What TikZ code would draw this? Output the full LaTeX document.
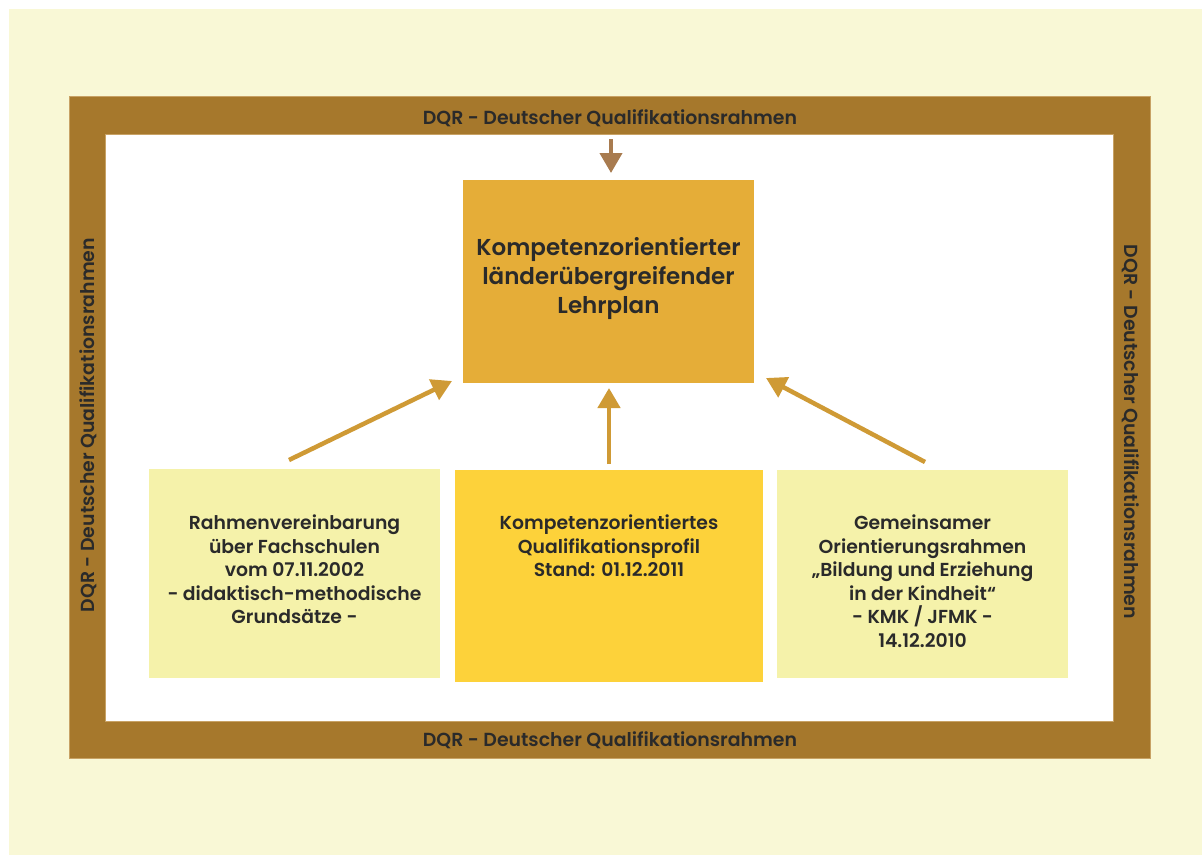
\documentclass[tikz,border=0pt]{standalone}
\usepackage{fontspec}
\setmainfont{Poppins}[BoldFont={Poppins SemiBold}]
\usetikzlibrary{arrows.meta}
\definecolor{bgyel}{HTML}{F9F8D6}
\definecolor{frame}{HTML}{A6782C}
\definecolor{frameedge}{HTML}{C8A265}
\definecolor{topbox}{HTML}{E5AD38}
\definecolor{paleyel}{HTML}{F5F2AA}
\definecolor{midbox}{HTML}{FDD23A}
\definecolor{arrowc}{HTML}{CF9A35}
\definecolor{toparrow}{HTML}{A87B4F}
\definecolor{txt}{HTML}{2A2A2A}
\tikzset{
  box/.style={inner sep=0pt, text=txt, align=center, font=\fontsize{18.8}{23.5}\bfseries\selectfont},
  framelabel/.style={text=txt, font=\fontsize{18.9}{20}\bfseries\selectfont, inner sep=0pt},
  conn/.style={line width=4.5pt, -{Triangle[length=20pt,width=22pt]}},
}
\begin{document}
\begin{tikzpicture}[x=1pt,y=-1pt]
\useasboundingbox (0,0) rectangle (1202,855);
\fill[white] (0,0) rectangle (1202,855);
\fill[bgyel] (9,9) rectangle (1202,855);
% frame
\fill[frame, draw=frameedge, line width=0.6pt] (69,96.5) rectangle (1150,758);
\fill[white, draw=frameedge, line width=0.6pt] (105,134) rectangle (1113,721);
\node[framelabel] (ftop) at (610,118) {DQR - Deutscher Qualifikationsrahmen};
\node[framelabel] (fbot) at (610,740) {DQR - Deutscher Qualifikationsrahmen};
\node[framelabel, rotate=90] (fleft) at (88,425) {DQR - Deutscher Qualifikationsrahmen};
\node[framelabel, rotate=-90] (fright) at (1131,432) {DQR - Deutscher Qualifikationsrahmen};
% boxes
\node[box, fill=topbox, minimum width=291pt, minimum height=203pt] (top) at (608.5,281.5) {};
\node[box, font=\fontsize{23}{29}\bfseries\selectfont] (toptxt) at (608.5,279)
  {Kompetenzorientierter\\länderübergreifender\\Lehrplan};
\node[box, fill=paleyel, minimum width=291pt, minimum height=209pt] (left) at (294.5,573.5) {};
\node[box, anchor=north] (lefttxt) at (294.5,515)
  {Rahmenvereinbarung\\über Fachschulen\\vom 07.11.2002\\- didaktisch-methodische\\Grundsätze -};
\node[box, fill=midbox, minimum width=308pt, minimum height=212pt] (mid) at (609,576) {};
\node[box, anchor=north] (midtxt) at (609,515)
  {Kompetenzorientiertes\\Qualifikationsprofil\\Stand: 01.12.2011};
\node[box, fill=paleyel, minimum width=291pt, minimum height=208pt] (right) at (922.5,574) {};
\node[box, anchor=north] (righttxt) at (922.5,515)
  {Gemeinsamer\\Orientierungsrahmen\\„Bildung und Erziehung\\in der Kindheit“\\- KMK / JFMK -\\14.12.2010};
% connectors
\coordinate (tstart) at (611,139);
\coordinate (tend) at (611,173);
\draw[conn, toparrow, line width=4pt] (tstart) -- (tend);
\coordinate (mstart) at (609,464);
\coordinate (mend) at (609,388);
\draw[conn, arrowc] (mstart) -- (mend);
\coordinate (lstart) at (289,460);
\coordinate (lend) at (452,381);
\draw[conn, arrowc] (lstart) -- (lend);
\coordinate (rstart) at (925,462);
\coordinate (rend) at (766,378);
\draw[conn, arrowc] (rstart) -- (rend);
\end{tikzpicture}
\end{document}
